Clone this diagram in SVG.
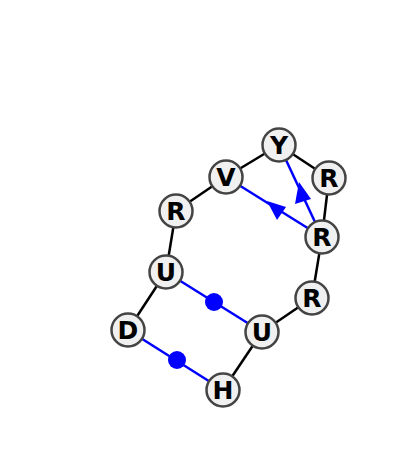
<svg xmlns="http://www.w3.org/2000/svg" width="400" height="476" viewBox="0 0 400 476">
<style>
.e{stroke:#000;stroke-width:2.5;fill:none}
.b{stroke:#0000ff;stroke-width:2.5;fill:none}
.n circle{fill:#f0f0f0;stroke:#444;stroke-width:2.5}
.n text{font-family:"DejaVu Sans",sans-serif;font-weight:bold;font-size:25px;text-anchor:middle;fill:#000}
</style>
<rect width="400" height="476" fill="#fff"/>
<g id="connectors">
<line class="e" x1="279" y1="145" x2="226" y2="177"/>
<line class="e" x1="279" y1="145" x2="329" y2="178"/>
<line class="e" x1="329" y1="178" x2="322" y2="237"/>
<line class="e" x1="322" y1="237" x2="312" y2="298"/>
<line class="e" x1="312" y1="298" x2="262" y2="332"/>
<line class="e" x1="262" y1="332" x2="223" y2="390"/>
<line class="e" x1="226" y1="177" x2="176" y2="211"/>
<line class="e" x1="176" y1="211" x2="166" y2="272"/>
<line class="e" x1="166" y1="272" x2="128" y2="330"/>
<line class="b" x1="226" y1="177" x2="322" y2="237"/>
<line class="b" x1="279" y1="145" x2="322" y2="237"/>
<line class="b" x1="166" y1="272" x2="262" y2="332"/>
<line class="b" x1="128" y1="330" x2="223" y2="390"/>
<polygon fill="#0000ff" points="267,201 286,207 277,220"/>
<polygon fill="#0000ff" points="299,182 311,199 295,204"/>
<circle fill="#0000ff" cx="214" cy="302" r="9"/>
<circle fill="#0000ff" cx="177" cy="360" r="9"/>
</g>
<g id="n1" class="n"><circle cx="279" cy="145" r="16.5"/><text x="279" y="154">Y</text></g>
<g id="n2" class="n"><circle cx="329" cy="178" r="16.5"/><text x="329" y="187">R</text></g>
<g id="n3" class="n"><circle cx="226" cy="177" r="16.5"/><text x="226" y="186">V</text></g>
<g id="n4" class="n"><circle cx="322" cy="237" r="16.5"/><text x="322" y="246">R</text></g>
<g id="n5" class="n"><circle cx="176" cy="211" r="16.5"/><text x="176" y="220">R</text></g>
<g id="n6" class="n"><circle cx="166" cy="272" r="16.5"/><text x="166" y="281">U</text></g>
<g id="n7" class="n"><circle cx="312" cy="298" r="16.5"/><text x="312" y="307">R</text></g>
<g id="n8" class="n"><circle cx="262" cy="332" r="16.5"/><text x="262" y="341">U</text></g>
<g id="n9" class="n"><circle cx="128" cy="330" r="16.5"/><text x="128" y="339">D</text></g>
<g id="n10" class="n"><circle cx="223" cy="390" r="16.5"/><text x="223" y="399">H</text></g>
</svg>
